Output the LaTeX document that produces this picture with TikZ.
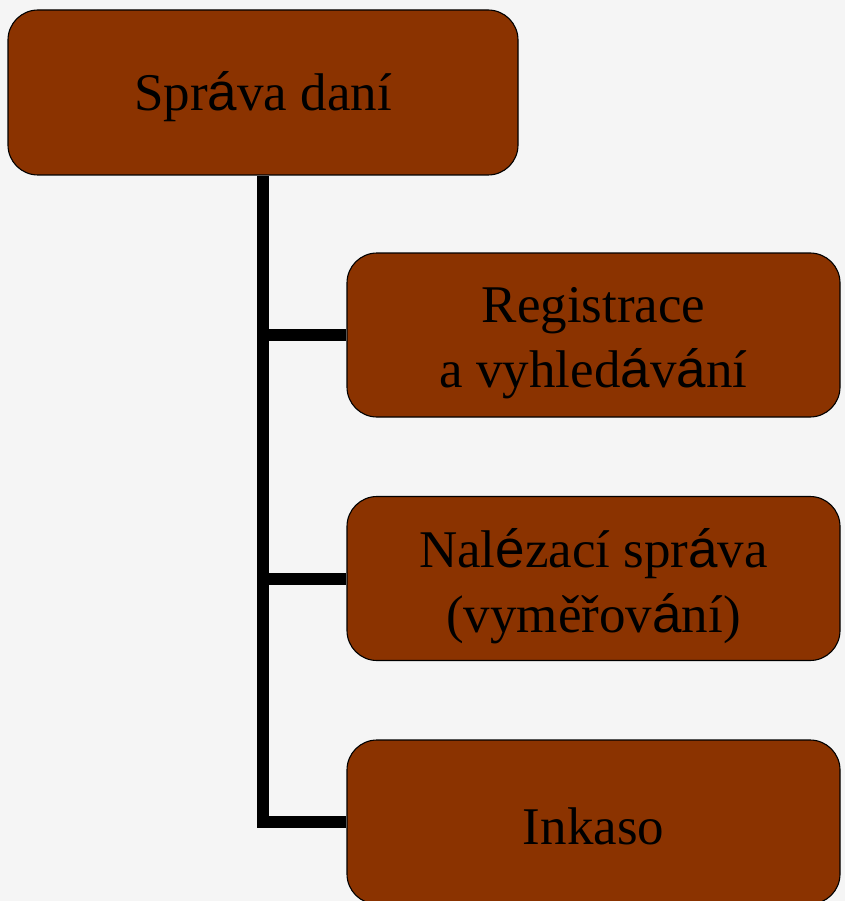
\documentclass[tikz,border=0pt]{standalone}
\usepackage{fontspec}
\setmainfont{Liberation Serif}
\newfontfamily\sansf{Liberation Sans}
\newcommand\saa{{\sansf á}}
\newcommand\see{{\sansf é}}
\definecolor{bg}{RGB}{245,245,245}
\definecolor{boxfill}{RGB}{139,51,0}
\begin{document}
\begin{tikzpicture}[x=1pt,y=-1pt,
  box/.style={draw=black, line width=1.1pt, fill=boxfill, rounded corners=30pt, inner sep=0pt},
  topbox/.style={box, minimum width=510pt, minimum height=165pt},
  subbox/.style={box, minimum width=493pt, minimum height=164pt},
  boxtext/.style={align=center, font=\fontsize{53}{65}\selectfont, text=black, inner sep=0pt},
  link/.style={draw=black, line width=12pt, line cap=butt, line join=miter}]
\fill[bg] (0,0) rectangle (845,901);
\useasboundingbox (0,0) rectangle (845,901);
\node[topbox] (top) at (263,92.5) {};
\node[subbox] (b2) at (593.5,335) {};
\node[subbox] (b3) at (593.5,578.5) {};
\node[subbox] (b4) at (593.5,822) {};
\node[boxtext, yshift=-4pt] (t1) at (top.center) {Spr\saa va daní};
\node[boxtext, yshift=-8pt] (t2) at (b2.center) {Registrace\\a vyhled\saa v\saa ní};
\node[boxtext, yshift=-8pt] (t3) at (b3.center) {Nal\see zací spr\saa va\\(vyměřov\saa ní)};
\node[boxtext, yshift=-4pt] (t4) at (b4.center) {Inkaso};
\path[link] (top.south) |- (b4.west);
\path[link] (top.south |- b2.west) -- (b2.west);
\path[link] (top.south |- b3.west) -- (b3.west);
\end{tikzpicture}
\end{document}
